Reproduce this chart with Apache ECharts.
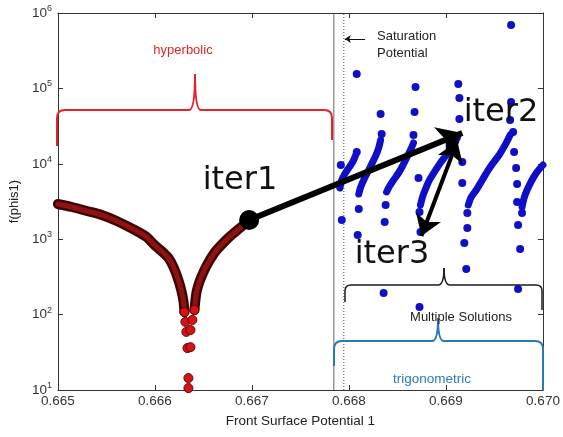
<!DOCTYPE html>
<html><head><meta charset="utf-8">
<script src="https://cdn.jsdelivr.net/npm/echarts@6/dist/echarts.min.js"></script>
<style>html,body{margin:0;padding:0;background:#fff}#c{width:563px;height:437px}</style>
</head><body><div id="c"></div>
<script>
// ---- data (x: front surface potential, y: f(phis1)) ----
const xTicks = [0.665, 0.666, 0.667, 0.668, 0.669, 0.670];
const yTicks = [10, 100, 1000, 10000, 100000, 1000000];

const redLeft = [[0.665000,2930],[0.665144,2674],[0.665298,2366],[0.665452,2094],[0.665606,1743],[0.665791,1324],[0.665914,1070],[0.665996,838],[0.666068,697],[0.666140,563],[0.666191,428],[0.666242,287],[0.666273,206],[0.666294,151],[0.666304,108]];
const redDip = [[0.666304,108],[0.666314,80],[0.666324,59],[0.666335,36],[0.666345,14.4],[0.666345,10.6],[0.666366,37],[0.666366,62.5],[0.666386,85],[0.666407,115]];
const redRight = [[0.666407,115],[0.666427,193],[0.666448,247],[0.666478,315],[0.666530,441],[0.666612,656],[0.666684,838],[0.666766,1070],[0.666889,1452],[0.666971,1798]];

const blueB0 = [[0.668070,13100],[0.668039,10600],[0.667998,8800],[0.667957,7330],[0.667926,6100],[0.667906,4780]];
const blueB1 = [[0.668326,20700],[0.668306,16200],[0.668275,12700],[0.668234,9940],[0.668193,7790],[0.668152,6100],[0.668121,4920],[0.668101,3970]];
const blueB2 = [[0.668665,18900],[0.668634,15200],[0.668593,11900],[0.668552,9350],[0.668511,7550],[0.668460,6100],[0.668419,5080],[0.668388,4230]];
const blueB3 = [[0.669117,22000],[0.669066,17200],[0.669004,13100],[0.668943,10300],[0.668881,7790],[0.668830,6100],[0.668789,4630],[0.668758,3630],[0.668737,2840]];
const blueB4 = [[0.669661,24100],[0.669610,17800],[0.669548,13100],[0.669487,10300],[0.669435,8270],[0.669374,6100],[0.669312,4490],[0.669261,3630],[0.669230,2840]];
const blueB5 = [[0.670000,9640],[0.669938,7790],[0.669887,6100],[0.669836,4490],[0.669805,3520],[0.669784,2670]];
const blueDots = [[0.667916,9640],[0.667926,1800],[0.668080,155000],[0.668080,14300],[0.668101,2520],[0.668090,1137],
  [0.668326,45700],[0.668337,24800],[0.668378,2840],[0.668368,1690],[0.668357,193],
  [0.668686,104000],[0.668676,48600],[0.668665,24100],[0.668717,6480],[0.668727,2300],[0.668737,1245],[0.668727,126],
  [0.669127,114000],[0.669138,74600],[0.669138,39300],[0.669168,10600],[0.669168,5560],[0.669220,2220],[0.669220,1410],[0.669189,891],[0.669209,403],
  [0.669671,693000],[0.669671,66000],[0.669661,38100],[0.669692,26400],[0.669702,14300],[0.669723,8800],[0.669733,5390],[0.669733,3110],[0.669784,2220],[0.669743,1540],[0.669764,741],[0.669743,219]];

const iter1 = [0.666971, 1800];
const iter2 = [0.669168, 25600];
const iter2b = [0.669117, 20060];
const iter3 = [0.668747, 1103];
const satSolid = 0.667844;
const satDotted = 0.667947;
const satArrowFrom = [0.668166, 452000];
const satArrowTo = [0.667957, 452000];

// ---- chart ----
const FONT = '"Liberation Sans", Arial, sans-serif';
const BLUE = '#0f0fc8';
const chart = echarts.init(document.getElementById('c'), null, {renderer: 'canvas'});

function blueLine(d) {
  return {type: 'line', data: d, smooth: 0.3, symbol: 'none', showSymbol: false,
    lineStyle: {color: BLUE, width: 7, cap: 'round'}, z: 3, silent: true};
}
function redLine(d, w, c) {
  return {type: 'line', data: d, smooth: 0.3, symbol: 'none', showSymbol: false,
    lineStyle: {color: c, width: w, cap: 'round', join: 'round'}, z: 2, silent: true};
}

// curly brace annotation built from lines and quadratic curves
function brace(x0, x1, yLine, yEndL, yEndR, xPeak, yPeak, r, color, lw) {
  const st = {stroke: color, lineWidth: lw, fill: 'none'};
  const els = [];
  const L = (a, b, c, d) => els.push({type: 'line', shape: {x1: a, y1: b, x2: c, y2: d}, style: st, z: 10, silent: true});
  const Q = (a, b, cx, cy, c, d) => els.push({type: 'bezierCurve', shape: {x1: a, y1: b, cpx1: cx, cpy1: cy, x2: c, y2: d}, style: st, z: 10, silent: true});
  L(x0, yEndL, x0, yLine + r);
  Q(x0, yLine + r, x0, yLine, x0 + r, yLine);
  L(x0 + r, yLine, xPeak - 6, yLine);
  Q(xPeak - 6, yLine, xPeak, yLine, xPeak, yPeak);
  Q(xPeak, yPeak, xPeak, yLine, xPeak + 6, yLine);
  L(xPeak + 6, yLine, x1 - r, yLine);
  Q(x1 - r, yLine, x1, yLine, x1, yLine + r);
  L(x1, yLine + r, x1, yEndR);
  return els;
}

const xBase = {type: 'value', min: 0.665, max: 0.670, interval: 0.001,
  axisLine: {show: true, onZero: false, lineStyle: {color: '#333', width: 1}},
  axisTick: {show: true, inside: true, length: 5, lineStyle: {color: '#333'}},
  splitLine: {show: false}};
const yBase = {type: 'log', logBase: 10, min: 10, max: 1000000,
  axisLine: {show: true, onZero: false, lineStyle: {color: '#333', width: 1}},
  axisTick: {show: true, inside: true, length: 5, lineStyle: {color: '#333'}},
  splitLine: {show: false}};

const graphics = []
  .concat(brace(57, 332, 110, 146, 140, 195, 74, 8, '#e3222c', 2))
  .concat(brace(345, 542, 285, 302, 310, 444, 268, 6, '#1a1a1a', 1.5))
  .concat(brace(334, 543, 341, 366, 390, 438, 318, 8, '#2b7ab6', 2))
  .concat([
    {type: 'text', style: {text: 'hyperbolic', x: 183, y: 50, align: 'center', verticalAlign: 'middle',
      font: '13px ' + FONT, fill: '#e02424'}, z: 10},
    {type: 'text', style: {text: 'Saturation\nPotential', x: 377, y: 28, align: 'left', verticalAlign: 'top',
      font: '13px ' + FONT, lineHeight: 17, fill: '#222'}, z: 10},
    {type: 'text', style: {text: 'Multiple Solutions', x: 461, y: 317, align: 'center', verticalAlign: 'middle',
      font: '13px ' + FONT, fill: '#222'}, z: 10},
    {type: 'text', style: {text: 'trigonometric', x: 432, y: 379, align: 'center', verticalAlign: 'middle',
      font: '13.5px ' + FONT, fill: '#2b7bb9'}, z: 10},
    {type: 'text', style: {text: 'iter1', x: 240, y: 181, align: 'center', verticalAlign: 'middle',
      font: '32px "DejaVu Sans", sans-serif', fill: '#111'}, z: 10},
    {type: 'text', style: {text: 'iter2', x: 501, y: 113, align: 'center', verticalAlign: 'middle',
      font: '32px "DejaVu Sans", sans-serif', fill: '#111'}, z: 10},
    {type: 'text', style: {text: 'iter3', x: 392, y: 255, align: 'center', verticalAlign: 'middle',
      font: '32px "DejaVu Sans", sans-serif', fill: '#111'}, z: 10}
  ]);

const option = {
  animation: false,
  backgroundColor: '#fff',
  grid: {left: 56, right: 20, top: 13, bottom: 47, containLabel: false},
  xAxis: [
    Object.assign({}, xBase, {position: 'bottom',
      name: 'Front Surface Potential 1', nameLocation: 'middle', nameGap: 24,
      nameTextStyle: {fontFamily: FONT, fontSize: 13.5, color: '#222'},
      axisLabel: {fontFamily: FONT, fontSize: 13.5, color: '#333', margin: 4,
        formatter: v => v.toFixed(3)}}),
    Object.assign({}, xBase, {position: 'top', axisLabel: {show: false}})
  ],
  yAxis: [
    Object.assign({}, yBase, {position: 'left',
      name: 'f(phis1)', nameLocation: 'middle', nameGap: 36, nameRotate: 90,
      nameTextStyle: {fontFamily: FONT, fontSize: 13, color: '#222'},
      axisLabel: {fontFamily: FONT, fontSize: 13.5, color: '#333', margin: 6,
        formatter: v => '10{s|' + Math.round(Math.log10(v)) + '}',
        rich: {s: {fontFamily: FONT, fontSize: 9, color: '#333', padding: [0, 0, 9, 0]}}}}),
    Object.assign({}, yBase, {position: 'right', axisLabel: {show: false}})
  ],
  series: [
    redLine(redLeft, 10, '#3e0505'),
    redLine(redLeft, 5, '#8e1212'),
    redLine(redRight, 10, '#3e0505'),
    redLine(redRight, 5, '#8e1212'),
    {type: 'scatter', data: redDip, symbolSize: 9,
      itemStyle: {color: '#d41414', borderColor: '#6a0000', borderWidth: 1, opacity: 1}, z: 2, silent: true},
    blueLine(blueB0), blueLine(blueB1), blueLine(blueB2), blueLine(blueB3), blueLine(blueB4), blueLine(blueB5),
    {type: 'scatter', data: blueDots, symbolSize: 8, itemStyle: {color: BLUE, opacity: 1}, z: 3, silent: true},
    {type: 'scatter', data: [iter1], symbolSize: 20, itemStyle: {color: '#000', opacity: 1}, z: 6, silent: true,
      markLine: {
        silent: true, z: 6, animation: false,
        label: {show: false},
        data: [
          [{coord: iter1, symbol: 'none', lineStyle: {color: '#000', width: 6, type: 'solid'}},
           {coord: iter2, symbol: 'arrow', symbolSize: 24}],
          [{coord: iter2b, symbol: 'arrow', symbolSize: 20, lineStyle: {color: '#000', width: 4, type: 'solid'}},
           {coord: iter3, symbol: 'arrow', symbolSize: 20}],
          [{coord: satArrowFrom, symbol: 'none', lineStyle: {color: '#111', width: 1, type: 'solid'}},
           {coord: satArrowTo, symbol: 'arrow', symbolSize: 6}]
        ]
      }},
    {type: 'line', data: [[satSolid, 10], [satSolid, 1000000]], symbol: 'none', showSymbol: false,
      lineStyle: {color: '#666', width: 1}, z: 1, silent: true},
    {type: 'line', data: [[satDotted, 10], [satDotted, 1000000]], symbol: 'none', showSymbol: false,
      lineStyle: {color: '#444', width: 1, type: [1, 2]}, z: 1, silent: true}
  ],
  graphic: graphics
};
chart.setOption(option);
</script>
</body></html>
